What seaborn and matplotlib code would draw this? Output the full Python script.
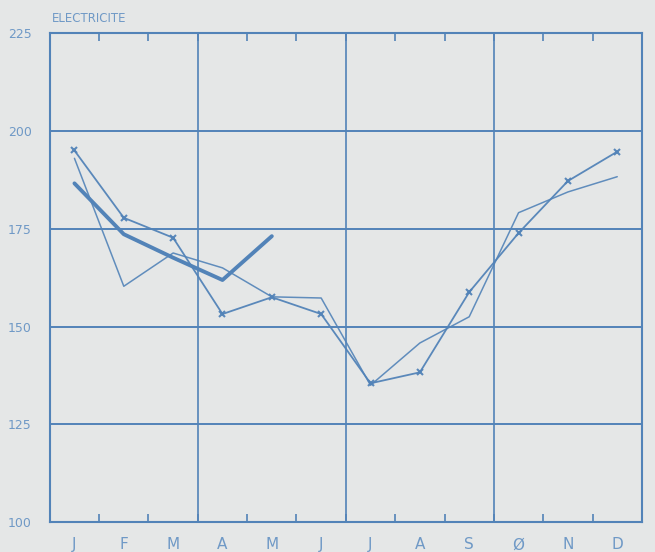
import matplotlib
matplotlib.use("Agg")
import matplotlib.pyplot as plt
import seaborn as sns
import pandas as pd
import numpy as np

months = ["J", "F", "M", "A", "M", "J", "J", "A", "S", "Ø", "N", "D"]
yticks = [100, 125, 150, 175, 200, 225]

series_x = [195, 177.8, 172.7, 153.2, 157.5, 153.2, 135.5, 138.3, 158.8, 173.9, 187.2, 194.7]
series_thin = [193, 160.3, 168.8, 165, 157.6, 157.3, 135, 145.8, 152.5, 179.1, 184.4, 188.3]
series_thick = [186.6, 173.6, 167.6, 161.9, 173.1]

title = "ELECTRICITE"

blue = "#5283b8"
txt = "#6f99c6"
bg = "#e5e7e7"

sns.set_theme(style="white")
plt.rcParams["font.family"] = ["DejaVu Sans"]

fig = plt.figure(figsize=(6.55, 5.52), dpi=100, facecolor=bg)
ax = fig.add_axes([0.076, 0.054, 0.904, 0.886])
ax.set_facecolor(bg)

idx = np.arange(len(months))
df_x = pd.DataFrame({"m": idx, "v": series_x})
df_t = pd.DataFrame({"m": idx, "v": series_thin})
df_k = pd.DataFrame({"m": idx[:len(series_thick)], "v": series_thick})

sns.lineplot(data=df_t, x="m", y="v", ax=ax, color=blue, lw=1.1, alpha=0.9)
sns.lineplot(data=df_x, x="m", y="v", ax=ax, color=blue, lw=1.3, marker="x",
             markersize=5, markeredgewidth=1.5, markeredgecolor=blue, alpha=0.95)
sns.lineplot(data=df_k, x="m", y="v", ax=ax, color=blue, lw=2.8)

ax.set_xlim(-0.5, 11.5)
ax.set_ylim(100, 225)
ax.set_yticks(yticks)
ax.set_yticklabels([str(v) for v in yticks], color=txt, fontsize=9)
ax.set_xticks(idx)
ax.set_xticklabels(months, color=txt, fontsize=11)
ax.set_xticks(np.arange(0.5, 11, 1), minor=True)
ax.tick_params(axis="x", which="major", length=0, pad=11)
ax.tick_params(axis="x", which="minor", direction="in", length=6, width=1.2,
               color=blue, top=True, bottom=True)
ax.tick_params(axis="y", which="major", length=0, pad=13)
ax.set_xlabel("")
ax.set_ylabel("")

ax.grid(False)
ax.yaxis.grid(True, color=blue, lw=1.4)
for xv in [2.5, 5.5, 8.5]:
    ax.axvline(xv, color=blue, lw=1.2, zorder=0.5)
for s in ax.spines.values():
    s.set_color(blue)
    s.set_linewidth(1.5)
    s.set_visible(True)

fig.text(52 / 655, 1 - 18 / 552, title, color=txt, fontsize=8.5, va="center", ha="left")

fig.savefig("out.png", dpi=100, facecolor=bg)
